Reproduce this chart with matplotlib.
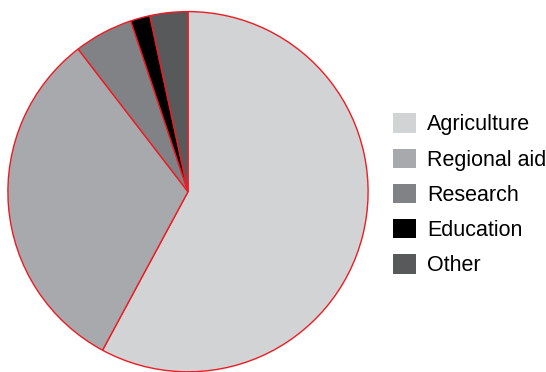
import matplotlib
matplotlib.use("Agg")
import matplotlib.pyplot as plt
from matplotlib.patches import Patch

labels = ["Agriculture", "Regional aid", "Research", "Education", "Other"]
shares = [57.9, 31.7, 5.3, 1.75, 3.4]
colors = ["#d1d3d4", "#a7a9ac", "#808285", "#000000", "#58595b"]

plt.rcParams["font.family"] = ["Liberation Sans", "DejaVu Sans"]

W, H = 546, 372
fig = plt.figure(figsize=(W / 100, H / 100), dpi=100)

# pie: centre ~ (188, 191.7) px, radius ~181 px
r = 181.0
cx, cy = 188.0, 191.7
ax = fig.add_axes([(cx - r) / W, (H - cy - r) / H, 2 * r / W, 2 * r / H])
ax.pie(shares, colors=colors, startangle=90, counterclock=False, radius=1,
       wedgeprops=dict(edgecolor="#ed1c24", linewidth=1.0))
ax.set_xlim(-1.005, 1.005)
ax.set_ylim(-1.005, 1.005)
ax.set_aspect("equal")
ax.axis("off")

handles = [Patch(facecolor=c, edgecolor="none") for c in colors]
fs = 15.5
fig.legend(handles, labels, loc="upper left",
           bbox_to_anchor=(393 / W, 1 - 113.4 / H),
           frameon=False, fontsize=fs, borderpad=0, borderaxespad=0,
           handlelength=1.07, handleheight=1.0, handletextpad=0.51,
           labelspacing=0.615)

fig.savefig("out.png", dpi=100)
